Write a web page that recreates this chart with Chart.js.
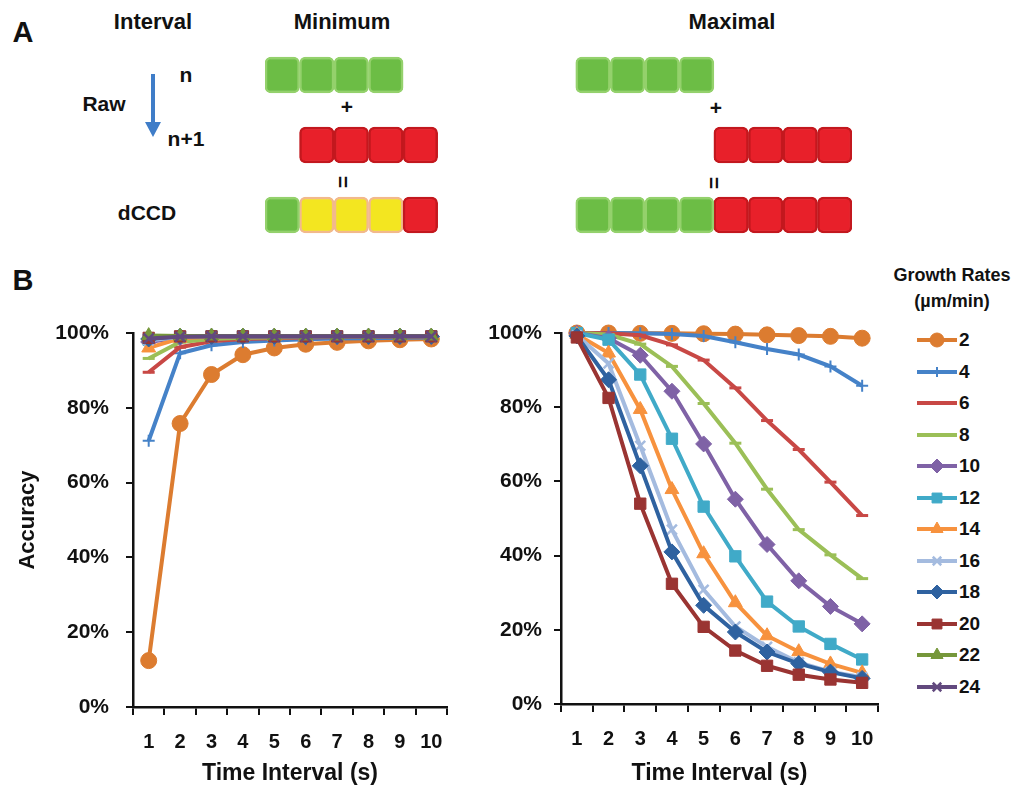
<!DOCTYPE html>
<html lang="en">
<head>
<meta charset="UTF-8">
<title>dCCD accuracy vs time interval</title>
<script src="https://cdn.jsdelivr.net/npm/chart.js@4.4.1/dist/chart.umd.min.js"></script>
<style>
    body {
        margin: 0;
        background: #fff;
        font-family: 'Liberation Sans', Arial, sans-serif;
        font-weight: bold;
        color: #111;
    }
    #page { position: relative; width: 1014px; height: 793px; overflow: hidden; }
    canvas { position: absolute; }
    .lbl {
        position: absolute;
        transform: translate(-50%, -50%);
        line-height: 1;
        white-space: nowrap;
        font-size: 21px;
    }
    .head { font-size: 22px; }
    .big { font-size: 29px; }
    .leg { font-size: 18px; }
    .leg-row { position: absolute; left: 916px; height: 22px; transform: translateY(-50%); }
    .leg-row canvas { position: absolute; left: 0; top: 0; }
    .leg-row span { position: absolute; left: 43px; top: 1px; font-size: 19px; line-height: 20px; }
</style>
</head>
<body>
<div id="page">
    <!-- panel A texts -->
    <div class="lbl big" style="left:23px; top:32px;">A</div>
    <div class="lbl head" style="left:153px; top:22px;">Interval</div>
    <div class="lbl head" style="left:342px; top:22px;">Minimum</div>
    <div class="lbl head" style="left:732px; top:22px;">Maximal</div>
    <div class="lbl" style="left:186px; top:74px;">n</div>
    <div class="lbl" style="left:104px; top:103px;">Raw</div>
    <div class="lbl" style="left:186px; top:138px;">n+1</div>
    <div class="lbl" style="left:147px; top:212px;">dCCD</div>
    <div class="lbl" style="left:347px; top:106px;">+</div>
    <div class="lbl" style="left:716px; top:107px;">+</div>
    <div class="lbl" style="left:343px; top:182px; transform:translate(-50%,-50%) rotate(90deg);">=</div>
    <div class="lbl" style="left:714px; top:183px; transform:translate(-50%,-50%) rotate(90deg);">=</div>
    <svg style="position:absolute; left:140px; top:72px;" width="26" height="68">
        <line x1="13" y1="2" x2="13" y2="54" stroke="#3f7dc8" stroke-width="4"/>
        <polygon points="5,50 21,50 13,65" fill="#3f7dc8"/>
    </svg>
    <canvas id="blocks" width="587" height="210" style="left:265px; top:40px;"></canvas>

    <!-- panel B -->
    <div class="lbl big" style="left:23px; top:280px;">B</div>
    <canvas id="minChart" width="450" height="472" style="left:10px; top:320px;"></canvas>
    <canvas id="maxChart" width="420" height="472" style="left:470px; top:320px;"></canvas>

    <div class="lbl leg" style="left:952px; top:275px;">Growth Rates</div>
    <div class="lbl leg" style="left:952px; top:301px;">(µm/min)</div>
    <div id="legend"></div>
</div>

<script>
    // ---------- panel B data: accuracy (%) per time interval ----------
    const INTERVALS = ['1', '2', '3', '4', '5', '6', '7', '8', '9', '10'];
    const RATES = ['2', '4', '6', '8', '10', '12', '14', '16', '18', '20', '22', '24'];

    // minimum interval
    const MIN_2  = [12.4, 75.8, 88.9, 94.2, 96.0, 97.0, 97.5, 97.9, 98.2, 98.4];
    const MIN_4  = [71.2, 94.6, 96.7, 97.6, 98.0, 98.3, 98.5, 98.6, 98.7, 98.8];
    const MIN_6  = [89.5, 96.2, 97.8, 98.4, 98.6, 98.8, 98.9, 98.9, 99.0, 99.0];
    const MIN_8  = [93.2, 97.6, 98.4, 98.7, 98.8, 98.9, 99.0, 99.0, 99.0, 99.0];
    const MIN_10 = [97.6, 98.8, 99.0, 99.1, 99.1, 99.1, 99.1, 99.1, 99.1, 99.1];
    const MIN_12 = [98.2, 99.0, 99.1, 99.1, 99.1, 99.1, 99.1, 99.1, 99.1, 99.1];
    const MIN_14 = [96.0, 98.6, 99.0, 99.1, 99.1, 99.1, 99.1, 99.1, 99.1, 99.1];
    const MIN_16 = [98.0, 99.0, 99.1, 99.1, 99.1, 99.1, 99.1, 99.1, 99.1, 99.1];
    const MIN_18 = [98.4, 99.1, 99.1, 99.1, 99.1, 99.1, 99.1, 99.1, 99.1, 99.1];
    const MIN_20 = [98.7, 99.1, 99.1, 99.1, 99.1, 99.1, 99.1, 99.1, 99.1, 99.1];
    const MIN_22 = [99.3, 99.2, 99.2, 99.2, 99.2, 99.2, 99.2, 99.2, 99.2, 99.2];
    const MIN_24 = [98.5, 99.0, 99.1, 99.1, 99.1, 99.1, 99.1, 99.1, 99.1, 99.1];

    // maximal interval (22 and 24 are not plotted here)
    const MAX_2  = [100, 100, 99.9, 99.9, 99.8, 99.7, 99.5, 99.3, 99.1, 98.6];
    const MAX_4  = [100, 100, 99.9, 99.7, 99.2, 97.5, 95.7, 94.2, 91.0, 85.8];
    const MAX_6  = [100, 99.9, 99.4, 96.8, 92.7, 85.2, 76.4, 68.6, 59.8, 50.8];
    const MAX_8  = [100, 99.6, 97.0, 91.0, 81.0, 70.3, 57.9, 47.0, 40.2, 33.8];
    const MAX_10 = [100, 98.6, 94.0, 84.3, 70.1, 55.2, 43.0, 33.2, 26.3, 21.6];
    const MAX_12 = [100, 98.2, 88.8, 71.5, 53.2, 39.8, 27.6, 20.9, 16.2, 12.0];
    const MAX_14 = [99.6, 94.6, 79.4, 57.8, 40.5, 27.3, 18.4, 14.1, 10.8, 8.4];
    const MAX_16 = [99.4, 91.8, 69.6, 47.0, 30.8, 20.9, 15.4, 11.2, 8.7, 7.2];
    const MAX_18 = [99.2, 87.4, 64.2, 41.0, 26.6, 19.4, 14.0, 10.9, 8.6, 6.9];
    const MAX_20 = [98.8, 82.5, 54.0, 32.4, 20.8, 14.4, 10.3, 7.9, 6.6, 5.7];

    const MIN_VALUES = [MIN_2, MIN_4, MIN_6, MIN_8, MIN_10, MIN_12, MIN_14, MIN_16, MIN_18, MIN_20, MIN_22, MIN_24];
    const MAX_VALUES = [MAX_2, MAX_4, MAX_6, MAX_8, MAX_10, MAX_12, MAX_14, MAX_16, MAX_18, MAX_20];

    // ---------- panel A blocks (G green, R red, Y yellow, . empty) ----------
    const ROWS = ['n', 'n+1', 'dCCD'];
    const MIN_BLOCKS = ['GGGG.', '.RRRR', 'GYYYR'];
    const MAX_BLOCKS = ['GGGG....', '....RRRR', 'GGGGRRRR'];

    // ---------- styles ----------
    const STYLE = {
        '2':  { color: '#dc7c30', point: 'circle',    r: 8 },
        '4':  { color: '#4582c8', point: 'cross',     r: 6, bw: 2 },
        '6':  { color: '#c84845', point: 'line',      r: 6, bw: 3 },
        '8':  { color: '#9bbf57', point: 'line',      r: 6, bw: 3 },
        '10': { color: '#7f62a6', point: 'rectRot',   r: 8 },
        '12': { color: '#40aac8', point: 'rect',      r: 8 },
        '14': { color: '#f7923e', point: 'triangle',  r: 8 },
        '16': { color: '#a4bbdf', point: 'crossRot',  r: 7, bw: 2.5 },
        '18': { color: '#2f62a0', point: 'rectRot',   r: 8 },
        '20': { color: '#9a3432', point: 'rect',      r: 8 },
        '22': { color: '#76973a', point: 'triangle',  r: 8 },
        '24': { color: '#62497e', point: 'crossRot',  r: 7, bw: 2.5 }
    };
    const BLOCK_STYLE = {
        G: { fill: '#6cbd45', edge: '#94d16c' },
        R: { fill: '#e8202a', edge: '#c3181e' },
        Y: { fill: '#f3e620', edge: '#f2b98c' }
    };
    const MAX_START = 9;

    Chart.defaults.font.family = "'Liberation Sans', Arial, sans-serif";
    Chart.defaults.color = '#111';
    Chart.defaults.animation = false;

    // panel A
    function blockData(key) {
        const out = [];
        [[MIN_BLOCKS, 0], [MAX_BLOCKS, MAX_START]].forEach(([rows, start]) => {
            rows.forEach((str, r) => {
                [...str].forEach((ch, k) => {
                    if (ch === key) out.push({ x: [start + k, start + k + 1], y: ROWS[r] });
                });
            });
        });
        return out;
    }

    new Chart(document.getElementById('blocks'), {
        type: 'bar',
        data: {
            labels: ROWS,
            datasets: Object.keys(BLOCK_STYLE).map(key => ({
                label: key,
                data: blockData(key),
                backgroundColor: BLOCK_STYLE[key].fill,
                borderColor: BLOCK_STYLE[key].edge
            }))
        },
        options: {
            indexAxis: 'y',
            responsive: false,
            layout: { padding: 0 },
            datasets: {
                bar: { grouped: false, barThickness: 36, borderSkipped: false, borderRadius: 6, borderWidth: 2.5 }
            },
            scales: {
                x: { type: 'linear', min: 0, max: MAX_START + 8, display: false },
                y: { type: 'category', display: false }
            },
            plugins: { legend: { display: false }, tooltip: { enabled: false } }
        }
    });

    // panel B
    function lineSets(values) {
        return values.map((vals, i) => {
            const s = STYLE[RATES[i]];
            return {
                label: RATES[i],
                data: vals,
                borderColor: s.color,
                backgroundColor: s.color,
                pointBackgroundColor: s.color,
                pointBorderColor: s.color,
                pointStyle: s.point,
                pointRadius: s.r,
                pointBorderWidth: s.bw || 1,
                borderWidth: 4,
                tension: 0,
                clip: false,
                order: RATES.length - i
            };
        });
    }

    function panelOptions(yWidth, xHeight, pad, tickPad, showTitle) {
        return {
            responsive: false,
            layout: { padding: pad },
            scales: {
                x: {
                    type: 'category',
                    offset: true,
                    grid: { offset: true, drawOnChartArea: false, tickLength: 8, color: '#111', lineWidth: 2 },
                    border: { color: '#111', width: 2.5 },
                    ticks: { font: { size: 20, weight: 'bold' }, padding: 15, maxRotation: 0, autoSkip: false },
                    title: {
                        display: true, text: 'Time Interval (s)',
                        font: { size: 23, weight: 'bold' }, padding: { top: 4, bottom: 5 }
                    },
                    afterFit: s => { s.height = xHeight; s.paddingLeft = 0; s.paddingRight = 0; }
                },
                y: {
                    min: 0, max: 100,
                    grid: { drawOnChartArea: false, tickLength: 7, color: '#111', lineWidth: 2 },
                    border: { color: '#111', width: 2.5 },
                    ticks: {
                        stepSize: 20, padding: tickPad,
                        font: { size: 21, weight: 'bold' },
                        callback: v => v + '%'
                    },
                    title: {
                        display: showTitle, text: 'Accuracy',
                        font: { size: 22, weight: 'bold' }, padding: { top: 5, bottom: 4 }
                    },
                    afterFit: s => { s.width = yWidth; s.paddingTop = 0; s.paddingBottom = 0; }
                }
            },
            plugins: { legend: { display: false }, tooltip: { enabled: false } }
        };
    }

    new Chart(document.getElementById('minChart'), {
        type: 'line',
        data: { labels: INTERVALS, datasets: lineSets(MIN_VALUES) },
        options: panelOptions(123, 85, { top: 13, right: 13, left: 0, bottom: 0 }, 17, true)
    });

    new Chart(document.getElementById('maxChart'), {
        type: 'line',
        data: { labels: INTERVALS, datasets: lineSets(MAX_VALUES) },
        options: panelOptions(91, 88, { top: 13, right: 12, left: 0, bottom: 0 }, 12, false)
    });

    // legend (shared by both panels)
    const legend = document.getElementById('legend');
    RATES.forEach((rate, i) => {
        const s = STYLE[rate];
        const row = document.createElement('div');
        row.className = 'leg-row';
        row.style.top = (340 + i * 31.5) + 'px';
        const c = document.createElement('canvas');
        c.width = 42;
        c.height = 22;
        const ctx = c.getContext('2d');
        ctx.strokeStyle = s.color;
        ctx.fillStyle = s.color;
        ctx.lineWidth = 4;
        ctx.beginPath();
        ctx.moveTo(1, 11);
        ctx.lineTo(41, 11);
        ctx.stroke();
        ctx.lineWidth = s.bw || 1;
        if (Chart.helpers && Chart.helpers.drawPoint) {
            Chart.helpers.drawPoint(ctx, { pointStyle: s.point, radius: s.r - 1, borderWidth: s.bw || 1, rotation: 0 }, 21, 11);
        }
        const t = document.createElement('span');
        t.textContent = rate;
        row.appendChild(c);
        row.appendChild(t);
        legend.appendChild(row);
    });
</script>
</body>
</html>
